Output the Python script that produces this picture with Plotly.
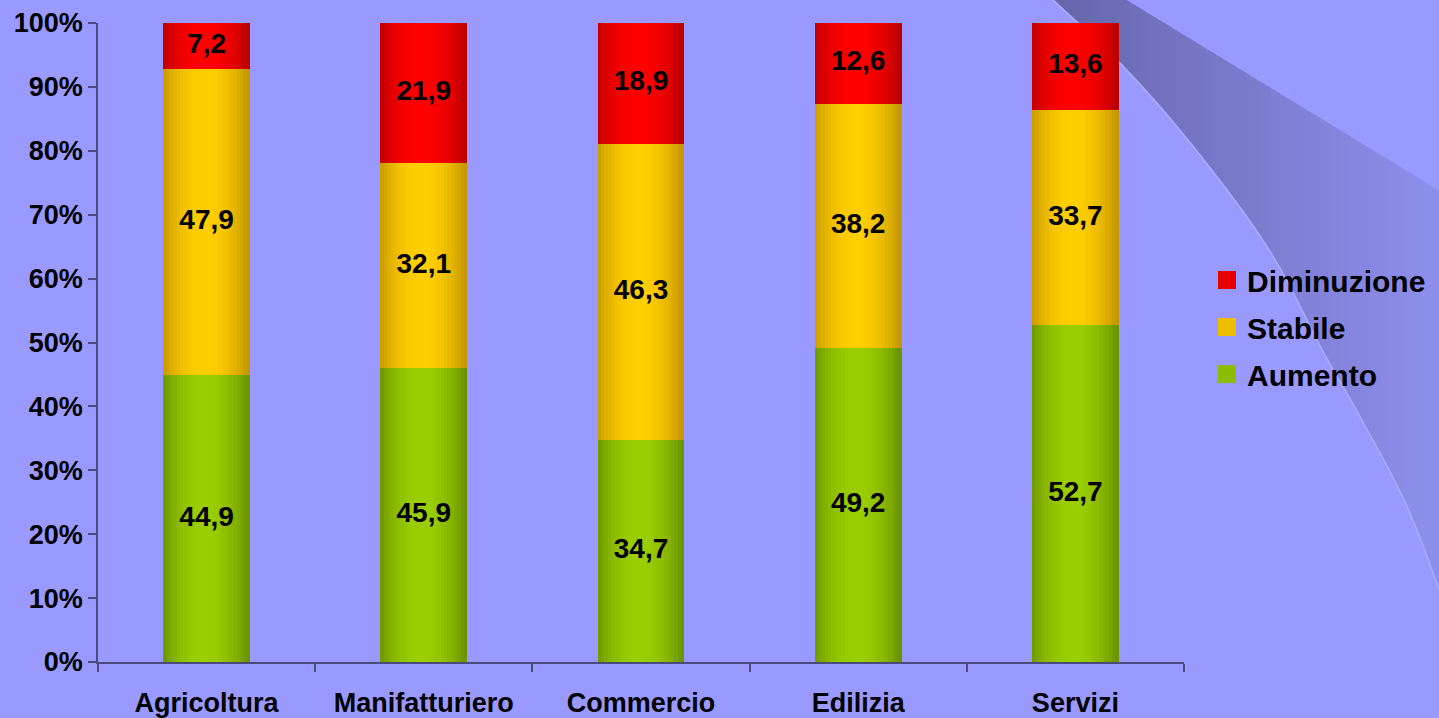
import numpy as np
import plotly.graph_objects as go

# ---------------- data ----------------
categories = ["Agricoltura", "Manifatturiero", "Commercio", "Edilizia", "Servizi"]
aumento = [44.9, 45.9, 34.7, 49.2, 52.7]
stabile = [47.9, 32.1, 46.3, 38.2, 33.7]
diminuzione = [7.2, 21.9, 18.9, 12.6, 13.6]
series_names = ["Aumento", "Stabile", "Diminuzione"]
y_tick_values = [0, 10, 20, 30, 40, 50, 60, 70, 80, 90, 100]

# ---------------- style ----------------
FONT = "Liberation Sans, Arial, sans-serif"
BG = "#9999FF"
AXIS = "#4A4A7C"
DARK = {"Aumento": (108, 148, 0), "Stabile": (198, 152, 0), "Diminuzione": (190, 0, 0)}
BRIGHT = {"Aumento": (155, 206, 0), "Stabile": (255, 206, 0), "Diminuzione": (255, 0, 0)}
LEG = {"Aumento": "#8CBD00", "Stabile": "#EDBD00", "Diminuzione": "#E80000"}

values = {"Aumento": aumento, "Stabile": stabile, "Diminuzione": diminuzione}
totals = [a + s + d for a, s, d in zip(aumento, stabile, diminuzione)]

fig = go.Figure()

BW = 0.4
N = 26
step = BW / N
cum = [0.0] * len(categories)
label_x, label_y, label_t = [], [], []
for name in series_names:
    vals = values[name]
    share = [v / t * 100 for v, t in zip(vals, totals)]
    base = list(cum)
    for i in range(N):
        t = (i + 0.5) / N
        f = np.sin(np.pi * min(1.0, t * 1.05)) ** 0.75
        d, b = DARK[name], BRIGHT[name]
        col = "rgb({},{},{})".format(*[int(round(dd + (bb - dd) * f)) for dd, bb in zip(d, b)])
        off = -BW / 2 + i * step
        w = min(step * 1.8, BW / 2 - off)
        fig.add_trace(go.Bar(
            x=categories, y=share, base=base, offset=off, width=w,
            marker=dict(color=col, line=dict(width=0)),
            showlegend=False, hoverinfo="skip",
        ))
    for k in range(len(categories)):
        label_x.append(categories[k])
        label_y.append(base[k] + share[k] / 2)
        label_t.append(f"{vals[k]:.1f}".replace(".", ","))
    cum = [c + s for c, s in zip(cum, share)]

fig.add_trace(go.Scatter(
    x=label_x, y=label_y, text=label_t, mode="text",
    textfont=dict(family=FONT, size=28, color="black", weight="bold"),
    showlegend=False, hoverinfo="skip", cliponaxis=False,
))

rank = {"Diminuzione": 1, "Stabile": 2, "Aumento": 3}
for name in series_names:
    fig.add_trace(go.Scatter(
        x=[None], y=[None], mode="markers", name=name,
        marker=dict(symbol="square", size=16, color=LEG[name],
                    line=dict(color=LEG[name], width=2)),
        legendrank=rank[name], legendgroup=name,
    ))

# ---------------- decoration (background swoosh) ----------------
L, R, T, B = 98, 1184, 23, 662
def px(x):
    return (x - L) / (R - L)
def py(y):
    return (B - y) / (B - T)

def catmull(pts, n=16):
    out = []
    P = [pts[0]] + pts + [pts[-1]]
    for i in range(1, len(P) - 2):
        p0, p1, p2, p3 = map(np.array, (P[i - 1], P[i], P[i + 1], P[i + 2]))
        for s in np.linspace(0, 1, n, endpoint=False):
            out.append(0.5 * ((2 * p1) + (-p0 + p2) * s + (2 * p0 - 5 * p1 + 4 * p2 - p3) * s ** 2
                              + (-p0 + 3 * p1 - 3 * p2 + p3) * s ** 3))
    out.append(np.array(pts[-1], dtype=float))
    return np.array(out)

lower_ctrl = [(1050, -4), (1125, 67), (1197, 150), (1270, 250), (1323, 350),
              (1357, 410), (1407, 505), (1447, 610)]
lc = catmull(lower_ctrl)
lower_x, lower_y = lc[:, 0], lc[:, 1]

def upper_y(x):
    return -4 if x <= 1120 else -4 + (x - 1120) * 200 / 328

def swoosh_col(x):
    u = (x - 1050) / (1445 - 1050)
    c0, c1 = np.array([100, 100, 168]), np.array([143, 143, 238])
    c = c0 + (c1 - c0) * u ** 0.9
    return "rgb({},{},{})".format(*[int(round(v)) for v in c])

xs = np.arange(1050, 1450, 5)
for x0 in xs:
    x1 = x0 + 5
    xa, xb = x0 - 0.6, x1 + 0.6
    ya_l, yb_l = np.interp(xa, lower_x, lower_y), np.interp(xb, lower_x, lower_y)
    ya_u, yb_u = upper_y(xa), upper_y(xb)
    pts = [(xa, ya_u), (xb, yb_u), (xb, yb_l), (xa, ya_l)]
    path = "M " + " L ".join(f"{px(p[0]):.5f},{py(p[1]):.5f}" for p in pts) + " Z"
    fig.add_shape(type="path", path=path, xref="paper", yref="paper", layer="below",
                  fillcolor=swoosh_col(x0 + 2.5), line=dict(width=0))
hl = "M " + " L ".join(f"{px(x):.5f},{py(y + 1.5):.5f}" for x, y in zip(lower_x, lower_y))
fig.add_shape(type="path", path=hl, xref="paper", yref="paper", layer="below",
              line=dict(color="rgba(175,175,255,0.85)", width=1.5))

# ---------------- layout ----------------
fig.update_layout(
    width=1439, height=718,
    margin=dict(l=L, r=1439 - R, t=T, b=718 - B, autoexpand=False),
    paper_bgcolor=BG, plot_bgcolor="rgba(0,0,0,0)",
    barmode="overlay", bargap=0,
    font=dict(family=FONT, color="black"),
    showlegend=True,
    legend=dict(
        x=px(1207), xanchor="left", y=py(327), yanchor="middle",
        font=dict(family=FONT, size=30, color="black", weight="bold"),
        bgcolor="rgba(0,0,0,0)", traceorder="grouped", tracegroupgap=5,
        itemclick=False, itemdoubleclick=False,
    ),
    xaxis=dict(
        type="category", range=[-0.5, len(categories) - 0.5], automargin=False,
        showline=True, linecolor=AXIS, linewidth=1.5,
        ticks="outside", tickson="boundaries", ticklen=8, tickcolor=AXIS, tickwidth=1.5,
        tickfont=dict(family=FONT, size=27, color="black", weight="bold"),
        ticklabelstandoff=16, showgrid=False, zeroline=False,
    ),
    yaxis=dict(
        range=[0, 100], tickvals=y_tick_values, ticktext=[f"{v}%" for v in y_tick_values],
        automargin=False,
        showline=True, linecolor=AXIS, linewidth=1.5,
        ticks="outside", ticklen=8, tickcolor=AXIS, tickwidth=1.5,
        tickfont=dict(family=FONT, size=27, color="black", weight="bold"),
        showgrid=False, zeroline=False,
    ),
)

fig.write_html(
    "out.html",
    config={"displayModeBar": False},
    post_script="document.body.style.margin='0';document.body.style.overflow='hidden';",
)
